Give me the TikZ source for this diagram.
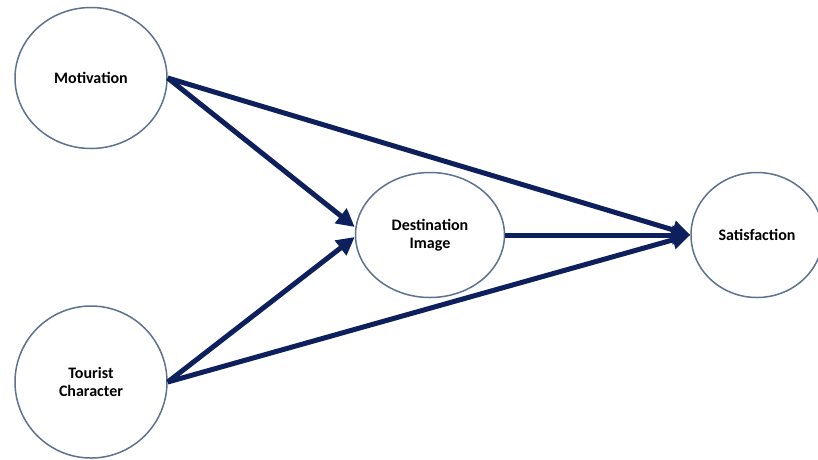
\documentclass[tikz,border=0pt]{standalone}
\usepackage{fontspec}
\setmainfont{Carlito}
\usetikzlibrary{shapes.geometric,arrows.meta}
\definecolor{rim}{HTML}{5B7290}
\definecolor{navy}{HTML}{0E1F5E}
\begin{document}
\begin{tikzpicture}[x=1pt,y=-1pt,
  bubble/.style={ellipse,draw=rim,line width=1.5pt,fill=white,inner sep=0pt,align=center,font=\fontsize{16}{18}\selectfont\bfseries},
  link/.style={draw=navy,line width=5pt,-{Triangle[length=18pt,width=18pt]}}]
\useasboundingbox (0,0) rectangle (818,459);
\node[bubble,minimum width=152pt,minimum height=141pt] (mot) at (91,78) {Motivation};
\node[bubble,minimum width=152pt,minimum height=152pt] (tour) at (91,382) {Tourist\\Character};
\node[bubble,minimum width=149pt,minimum height=125pt] (dest) at (430,235) {Destination\\Image};
\node[bubble,minimum width=132pt,minimum height=125pt] (sat) at (757,235) {Satisfaction};
\coordinate (d1) at ([yshift=8pt]dest.west);
\coordinate (d2) at ([yshift=-2pt]dest.west);
\draw[link] (mot.east) -- (d1);
\draw[link] (tour.east) -- (d2);
\draw[link] (mot.east) -- (sat.west);
\draw[link] (dest.east) -- (sat.west);
\draw[link] (tour.east) -- (sat.west);
\end{tikzpicture}
\end{document}
